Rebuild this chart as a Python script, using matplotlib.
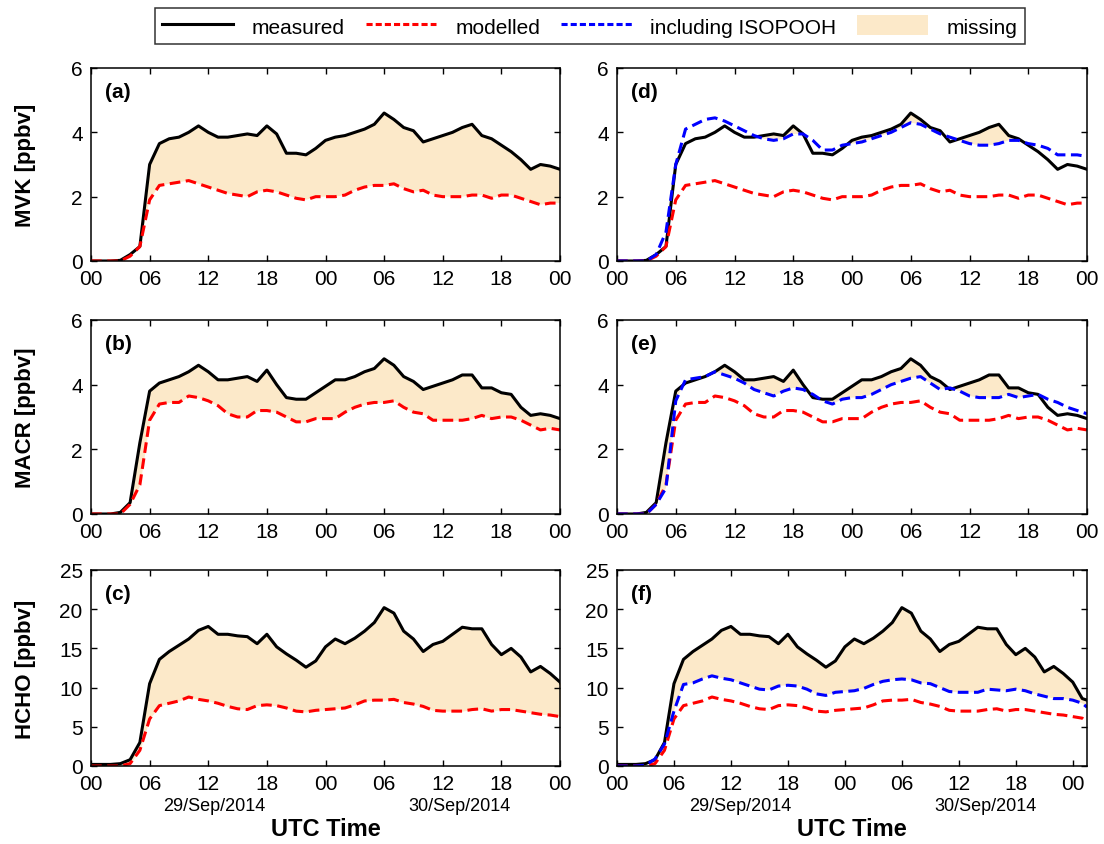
import matplotlib
matplotlib.use("Agg")
import matplotlib.pyplot as plt
from matplotlib.lines import Line2D
from matplotlib.patches import Patch
import numpy as np

plt.rcParams['font.family'] = ['Liberation Sans', 'DejaVu Sans']

# hours since 29/Sep/2014 00 UTC
hours = list(range(49))
hours_hcho = list(range(50)) + [49.5]

mvk_meas = [0, 0, 0, 0.02, 0.2, 0.45, 3.0, 3.65, 3.8, 3.85, 4.0, 4.2, 4.0, 3.85, 3.85, 3.9, 3.95,
            3.9, 4.2, 3.95, 3.35, 3.35, 3.3, 3.5, 3.75, 3.85, 3.9, 4.0, 4.1, 4.25, 4.6, 4.4, 4.15,
            4.05, 3.7, 3.8, 3.9, 4.0, 4.15, 4.25, 3.9, 3.8, 3.6, 3.4, 3.15, 2.85, 3.0, 2.95, 2.85]
mvk_mod = [0, 0, 0, 0, 0.15, 0.45, 1.9, 2.35, 2.4, 2.45, 2.5, 2.4, 2.3, 2.2, 2.1, 2.05, 2.0,
           2.15, 2.2, 2.15, 2.05, 1.95, 1.9, 2.0, 2.0, 2.0, 2.05, 2.2, 2.3, 2.35, 2.35, 2.4, 2.25,
           2.15, 2.2, 2.05, 2.0, 2.0, 2.0, 2.05, 2.05, 1.95, 2.05, 2.05, 1.95, 1.85, 1.75, 1.8, 1.8]
mvk_iso = [0, 0, 0, 0, 0.2, 0.9, 3.0, 4.1, 4.25, 4.4, 4.45, 4.35, 4.2, 4.05, 3.9, 3.8, 3.75,
           3.8, 3.95, 3.95, 3.75, 3.45, 3.45, 3.6, 3.65, 3.7, 3.8, 3.9, 4.0, 4.15, 4.3, 4.25, 4.1,
           3.95, 3.85, 3.75, 3.65, 3.6, 3.6, 3.65, 3.75, 3.75, 3.65, 3.6, 3.5, 3.3, 3.3, 3.3, 3.25]

macr_meas = [0, 0, 0, 0.05, 0.35, 2.2, 3.8, 4.05, 4.15, 4.25, 4.4, 4.6, 4.4, 4.15, 4.15, 4.2, 4.25,
             4.1, 4.45, 4.0, 3.6, 3.55, 3.55, 3.75, 3.95, 4.15, 4.15, 4.25, 4.4, 4.5, 4.8, 4.6, 4.25,
             4.1, 3.85, 3.95, 4.05, 4.15, 4.3, 4.3, 3.9, 3.9, 3.75, 3.7, 3.3, 3.05, 3.1, 3.05, 2.95]
macr_mod = [0, 0, 0, 0, 0.3, 0.9, 2.9, 3.4, 3.45, 3.45, 3.65, 3.6, 3.5, 3.35, 3.1, 3.0, 3.0,
            3.2, 3.2, 3.15, 3.0, 2.85, 2.85, 2.95, 2.95, 2.95, 3.15, 3.3, 3.4, 3.45, 3.45, 3.5, 3.3,
            3.15, 3.1, 2.9, 2.9, 2.9, 2.9, 2.95, 3.05, 2.95, 3.0, 3.0, 2.9, 2.75, 2.6, 2.65, 2.6]
macr_iso = [0, 0, 0, 0, 0.3, 0.8, 3.5, 4.15, 4.2, 4.25, 4.4, 4.3, 4.2, 4.05, 3.85, 3.75, 3.65,
            3.8, 3.9, 3.85, 3.7, 3.5, 3.4, 3.55, 3.6, 3.6, 3.7, 3.85, 4.0, 4.1, 4.2, 4.25, 4.05,
            3.85, 3.9, 3.8, 3.65, 3.6, 3.6, 3.6, 3.7, 3.6, 3.65, 3.7, 3.55, 3.45, 3.3, 3.2, 3.1]

hcho_meas = [0.2, 0.2, 0.2, 0.3, 0.8, 3.0, 10.5, 13.6, 14.6, 15.4, 16.2, 17.3, 17.8, 16.8, 16.8,
             16.6, 16.5, 15.6, 16.8, 15.2, 14.3, 13.5, 12.6, 13.4, 15.2, 16.2, 15.6, 16.3, 17.2,
             18.3, 20.2, 19.5, 17.2, 16.2, 14.6, 15.5, 15.9, 16.8, 17.7, 17.5, 17.5, 15.5, 14.2,
             15.0, 13.9, 12.0, 12.7, 11.8, 10.7, 8.6, 8.4]
hcho_mod = [0, 0, 0, 0, 0.3, 2.0, 6.0, 7.7, 8.0, 8.3, 8.8, 8.5, 8.3, 8.0, 7.6, 7.3, 7.2,
            7.7, 7.8, 7.7, 7.4, 7.0, 6.9, 7.1, 7.2, 7.3, 7.4, 7.8, 8.3, 8.4, 8.4, 8.5, 8.1,
            7.9, 7.6, 7.1, 7.0, 7.0, 7.0, 7.2, 7.3, 7.0, 7.2, 7.2, 7.0, 6.8, 6.6, 6.5, 6.3, 6.1, 5.6]
hcho_iso = [0, 0, 0, 0.1, 0.9, 2.8, 7.0, 10.4, 10.6, 11.1, 11.5, 11.2, 11.0, 10.6, 10.2, 9.8, 9.7,
            10.2, 10.3, 10.2, 9.8, 9.2, 9.0, 9.4, 9.5, 9.6, 9.9, 10.4, 10.8, 11.0, 11.1, 11.0, 10.6,
            10.5, 10.0, 9.5, 9.4, 9.4, 9.4, 9.8, 9.7, 9.6, 9.8, 9.6, 9.2, 8.9, 8.6, 8.6, 8.4, 8.0, 7.5]

tick_hours = list(range(0, 49, 6))
tick_labels = ['00', '06', '12', '18', '00', '06', '12', '18', '00']
date_labels = ['29/Sep/2014', '30/Sep/2014']

fill_col = '#fce9c9'
dash = (3.5, 1.8)

fig = plt.figure(figsize=(11.04, 8.45), dpi=100)

left_x, right_x = 91 / 1104, 617 / 1104
w_left, w_right = 469 / 1104, 470 / 1104
rows = [(1 - 262 / 845, 193 / 845), (1 - 515 / 845, 194 / 845), (1 - 767 / 845, 196 / 845)]

panels = [
    # (row, col, label, time, meas, mod, iso, ymax, yticks, ylabel, xmax)
    (0, 0, '(a)', hours, mvk_meas, mvk_mod, None, 6, [0, 2, 4, 6], 'MVK [ppbv]', 48),
    (1, 0, '(b)', hours, macr_meas, macr_mod, None, 6, [0, 2, 4, 6], 'MACR [ppbv]', 48),
    (2, 0, '(c)', hours_hcho, hcho_meas, hcho_mod, None, 25, [0, 5, 10, 15, 20, 25], 'HCHO [ppbv]', 48),
    (0, 1, '(d)', hours, mvk_meas, mvk_mod, mvk_iso, 6, [0, 2, 4, 6], None, 48),
    (1, 1, '(e)', hours, macr_meas, macr_mod, macr_iso, 6, [0, 2, 4, 6], None, 48),
    (2, 1, '(f)', hours_hcho, hcho_meas, hcho_mod, hcho_iso, 25, [0, 5, 10, 15, 20, 25], None, 49.5),
]

for row, col, lab, t, meas, mod, iso, ymax, yt, ylab, xmax in panels:
    b, h = rows[row]
    x0, w = (left_x, w_left) if col == 0 else (right_x, w_right)
    ax = fig.add_axes([x0, b, w, h])
    t = np.array(t, dtype=float)
    m = np.array(meas)
    ref = np.array(mod) if iso is None else np.array(iso)
    ax.fill_between(t, m, ref, where=m > ref, interpolate=True, color=fill_col, lw=0)
    ax.plot(t, meas, color='black', lw=2.2)
    ax.plot(t, mod, color='#ff0000', lw=2.2, dashes=dash)
    if iso is not None:
        ax.plot(t, iso, color='#0000ff', lw=2.2, dashes=dash)
    ax.set_xlim(0, xmax)
    ax.set_ylim(0, ymax)
    ax.set_xticks(tick_hours)
    ax.set_xticklabels(tick_labels)
    ax.set_yticks(yt)
    ax.tick_params(direction='in', top=True, right=True, length=4, width=1,
                   labelsize=15, pad=6)
    for s in ax.spines.values():
        s.set_linewidth(1.1)
    ax.text(0.03, 0.93, lab, transform=ax.transAxes, fontsize=15, fontweight='bold',
            ha='left', va='top')
    if ylab:
        fig.text(25 / 1104, b + h / 2, ylab, rotation=90, ha='center', va='center',
                 fontsize=16, fontweight='bold')
    if row == 2:
        ax.text(0.263, -0.2, date_labels[0], transform=ax.transAxes, fontsize=13,
                ha='center', va='center')
        ax.text(0.785, -0.2, date_labels[1], transform=ax.transAxes, fontsize=13,
                ha='center', va='center')
        ax.text(0.5, -0.32, 'UTC Time', transform=ax.transAxes, fontsize=17,
                fontweight='bold', ha='center', va='center')

handles = [
    Line2D([], [], color='black', lw=2.2),
    Line2D([], [], color='#ff0000', lw=2.2, dashes=(2, 1)),
    Line2D([], [], color='#0000ff', lw=2.2, dashes=(2, 1)),
    Patch(facecolor=fill_col, edgecolor='none'),
]
leg = fig.legend(handles, ['measured', 'modelled', 'including ISOPOOH', 'missing'],
                 loc='center', bbox_to_anchor=(590 / 1104, 1 - 27 / 845), ncol=4,
                 fontsize=15, frameon=True, fancybox=False, edgecolor='black',
                 handlelength=3.4, handleheight=1.1, handletextpad=0.9,
                 columnspacing=1.0, borderpad=0.35)
leg.get_frame().set_linewidth(1.1)

fig.savefig('out.png', dpi=100)
